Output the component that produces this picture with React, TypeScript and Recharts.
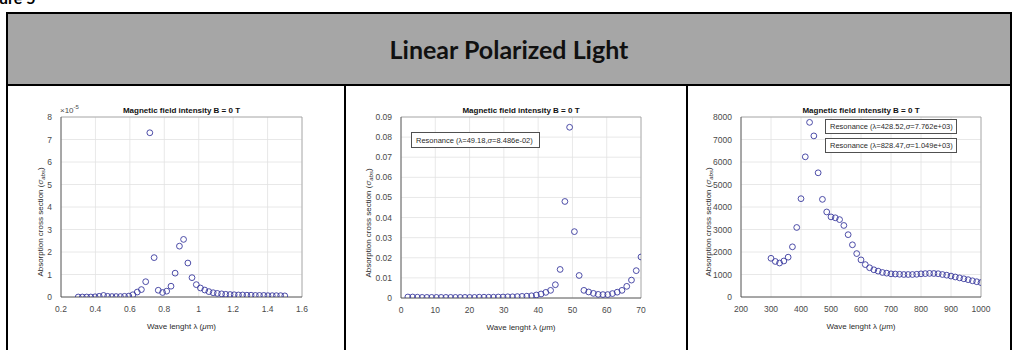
import React from 'react'
import { ScatterChart, Scatter, XAxis, YAxis, CartesianGrid, ReferenceLine } from 'recharts'

// Panel 1 - wavelength in um, sigma in units of 1e-5
const p1Lambda = [
  0.3, 0.324, 0.349, 0.373, 0.398, 0.422, 0.447, 0.471, 0.496, 0.52,
  0.545, 0.569, 0.594, 0.618, 0.643, 0.667, 0.692, 0.716, 0.741, 0.765,
  0.79, 0.814, 0.839, 0.863, 0.888, 0.912, 0.937, 0.961, 0.986, 1.01,
  1.035, 1.059, 1.084, 1.108, 1.133, 1.157, 1.182, 1.206, 1.231, 1.255,
  1.28, 1.304, 1.329, 1.353, 1.378, 1.402, 1.427, 1.451, 1.476, 1.5
]
const p1Sigma = [
  0, 0, 0, 0, 0.01, 0.03, 0.07, 0.03, 0.02, 0.02,
  0.02, 0.03, 0.04, 0.1, 0.22, 0.33, 0.68, 7.3, 1.75, 0.3,
  0.2, 0.26, 0.48, 1.06, 2.26, 2.56, 1.51, 0.86, 0.55, 0.4,
  0.31, 0.24, 0.19, 0.16, 0.14, 0.12, 0.11, 0.1, 0.09, 0.09,
  0.08, 0.08, 0.07, 0.07, 0.07, 0.06, 0.06, 0.06, 0.06, 0.05
]
const p1XTicks = [0.2, 0.4, 0.6, 0.8, 1, 1.2, 1.4, 1.6]
const p1YTicks = [0, 1, 2, 3, 4, 5, 6, 7, 8]

// Panel 2
const p2Lambda = [
  2, 3.39, 4.78, 6.16, 7.55, 8.94, 10.33, 11.71, 13.1, 14.49,
  15.88, 17.27, 18.65, 20.04, 21.43, 22.82, 24.2, 25.59, 26.98, 28.37,
  29.76, 31.14, 32.53, 33.92, 35.31, 36.69, 38.08, 39.47, 40.86, 42.24,
  43.63, 45.02, 46.41, 47.8, 49.18, 50.57, 51.96, 53.35, 54.73, 56.12,
  57.51, 58.9, 60.29, 61.67, 63.06, 64.45, 65.84, 67.22, 68.61, 70
]
const p2Sigma = [
  0.0005, 0.0005, 0.0004, 0.0003, 0.0003, 0.0003, 0.0003, 0.0003, 0.0003, 0.0003,
  0.0003, 0.0003, 0.0003, 0.0003, 0.0003, 0.0004, 0.0004, 0.0004, 0.0004, 0.0005,
  0.0005, 0.0006, 0.0006, 0.0007, 0.0008, 0.0009, 0.0011, 0.0015, 0.002, 0.0028,
  0.0038, 0.0066, 0.0142, 0.048, 0.0849, 0.033, 0.0112, 0.0038, 0.003, 0.0023,
  0.0018, 0.0017, 0.0017, 0.0022, 0.0029, 0.0038, 0.0058, 0.0089, 0.0136, 0.0204
]
const p2XTicks = [0, 10, 20, 30, 40, 50, 60, 70]
const p2YTicks = [0, 0.01, 0.02, 0.03, 0.04, 0.05, 0.06, 0.07, 0.08, 0.09]

// Panel 3
const p3Lambda = [
  300, 314.29, 328.57, 342.86, 357.14, 371.43, 385.71, 400, 414.29, 428.57,
  442.86, 457.14, 471.43, 485.71, 500, 514.29, 528.57, 542.86, 557.14, 571.43,
  585.71, 600, 614.29, 628.57, 642.86, 657.14, 671.43, 685.71, 700, 714.29,
  728.57, 742.86, 757.14, 771.43, 785.71, 800, 814.29, 828.57, 842.86, 857.14,
  871.43, 885.71, 900, 914.29, 928.57, 942.86, 957.14, 971.43, 985.71, 1000
]
const p3Sigma = [
  1720, 1580, 1510, 1600, 1770, 2230, 3090, 4370, 6230, 7762,
  7160, 5520, 4340, 3780, 3560, 3520, 3440, 3180, 2770, 2320,
  1930, 1650, 1440, 1300, 1210, 1150, 1090, 1060, 1030, 1020,
  1010, 1000, 1000, 1000, 1010, 1030, 1040, 1049, 1045, 1035,
  1000, 970, 930, 890, 850, 810, 770, 720, 680, 640
]
const p3XTicks = [200, 300, 400, 500, 600, 700, 800, 900, 1000]
const p3YTicks = [0, 1000, 2000, 3000, 4000, 5000, 6000, 7000, 8000]

const p2Legend = [{ lambda: '49.18', sigma: '8.486e-02' }]
const p3Legend = [
  { lambda: '428.52', sigma: '7.762e+03' },
  { lambda: '828.47', sigma: '1.049e+03' }
]

const FONT = '"Liberation Sans", Arial, sans-serif'
const MARKER = '#3a3a9e'
const TXT = '#2b2b2b'

const zip = (xs: number[], ys: number[]) => xs.map((x, i) => ({ x, y: ys[i] }))

function Ring(props: any) {
  const { cx, cy } = props
  if (cx == null || cy == null) return null
  return <circle cx={cx} cy={cy} r={2.9} fill="none" stroke={MARKER} strokeWidth={0.9} />
}

interface PanelProps {
  left: number
  top: number
  w: number
  h: number
  data: { x: number; y: number }[]
  xDomain: [number, number]
  xTicks: number[]
  yDomain: [number, number]
  yTicks: number[]
  yFmt?: (v: number) => string
  yLabelX: number
}

function Panel({ left, top, w, h, data, xDomain, xTicks, yDomain, yTicks, yFmt, yLabelX }: PanelProps) {
  const tickStyle = { fontSize: 8.5, fill: '#4a4a4a', fontFamily: FONT }
  const cx = left + w / 2
  return (
    <>
      <div style={{ position: 'absolute', left: left - 50, top: top - 10 }}>
        <ScatterChart width={w + 60} height={h + 40} margin={{ top: 10, right: 10, bottom: 20, left: 10 }}>
          <CartesianGrid stroke="#e2e2e2" strokeWidth={0.8} />
          <XAxis
            type="number"
            dataKey="x"
            domain={xDomain}
            ticks={xTicks}
            interval={0}
            height={20}
            tickLine={false}
            tickMargin={3}
            axisLine={{ stroke: '#4a4a4a', strokeWidth: 0.9 }}
            tick={tickStyle}
            allowDataOverflow
          />
          <YAxis
            type="number"
            dataKey="y"
            domain={yDomain}
            ticks={yTicks}
            interval={0}
            width={40}
            tickLine={false}
            tickMargin={3}
            axisLine={{ stroke: '#4a4a4a', strokeWidth: 0.9 }}
            tick={tickStyle}
            tickFormatter={yFmt}
            allowDataOverflow
          />
          <ReferenceLine y={yDomain[1]} stroke="#a0a0a0" strokeWidth={0.8} />
          <ReferenceLine x={xDomain[1]} stroke="#a0a0a0" strokeWidth={0.8} />
          <Scatter data={data} shape={<Ring />} isAnimationActive={false} />
        </ScatterChart>
      </div>
      {/* title */}
      <div
        style={{
          position: 'absolute', left: cx, top: top - 11, transform: 'translateX(-50%)',
          fontFamily: FONT, fontWeight: 'bold', fontSize: 8, lineHeight: '9px', color: '#111', whiteSpace: 'nowrap'
        }}
      >
        Magnetic field intensity B = 0 T
      </div>
      {/* y label */}
      <div
        style={{
          position: 'absolute', left: yLabelX, top: top + h / 2 + 10,
          transform: 'translate(-50%, -50%) rotate(-90deg)',
          fontFamily: FONT, fontSize: 8, lineHeight: '10px', color: TXT, whiteSpace: 'nowrap'
        }}
      >
        Absorption cross section (<i>σ</i>
        <sub style={{ fontSize: 6, fontStyle: 'italic' }}>abs</sub>)
      </div>
      {/* x label */}
      <div
        style={{
          position: 'absolute', left: cx, top: top + h + 15, transform: 'translateX(-50%)',
          fontFamily: FONT, fontSize: 8, lineHeight: '10px', color: TXT, whiteSpace: 'nowrap'
        }}
      >
        Wave lenght λ (<i>μ</i>m)
      </div>
    </>
  )
}

function LegendBox({ left, top, width, height, lambda, sigma }: any) {
  return (
    <div
      style={{
        position: 'absolute', left, top, width, height, boxSizing: 'border-box',
        border: '1px solid #505050', background: '#fff', fontFamily: FONT, fontSize: 7.5,
        color: TXT, display: 'flex', alignItems: 'center', paddingLeft: 4, whiteSpace: 'nowrap'
      }}
    >
      Resonance (λ={lambda},<i>σ</i>={sigma})
    </div>
  )
}

export default function App() {
  const fmt2 = (v: number) => (v === 0 ? '0' : v.toFixed(2))
  return (
    <div style={{ position: 'relative', width: 1016, height: 350, background: '#fff', overflow: 'hidden' }}>
      <style>{'body{margin:0}'}</style>

      {/* clipped caption of the page above */}
      <div
        style={{
          position: 'absolute', left: -1, top: -12, fontFamily: 'Lato, sans-serif', fontWeight: 'bold',
          fontSize: 16, color: '#000', whiteSpace: 'nowrap'
        }}
      >
        ure 5
      </div>

      {/* header row */}
      <div
        style={{
          position: 'absolute', left: 6, top: 12, width: 1006, height: 74, boxSizing: 'border-box',
          border: '2px solid #000', background: '#a6a6a6', display: 'flex', alignItems: 'center',
          justifyContent: 'center', fontFamily: 'Lato, "Open Sans", sans-serif', fontWeight: 'bold',
          fontSize: 25, color: '#111'
        }}
      >
        Linear Polarized Light
      </div>
      {/* cell borders */}
      {[6, 344, 686, 1010].map(x => (
        <div key={x} style={{ position: 'absolute', left: x, top: 84, width: 2, height: 266, background: '#000' }} />
      ))}

      <Panel
        left={61} top={117} w={241} h={190}
        data={zip(p1Lambda, p1Sigma)}
        xDomain={[0.2, 1.6]} xTicks={p1XTicks}
        yDomain={[0, 8]} yTicks={p1YTicks}
        yLabelX={42}
      />
      <div
        style={{
          position: 'absolute', left: 60, top: 104, fontFamily: FONT, fontSize: 8, color: '#4a4a4a',
          whiteSpace: 'nowrap'
        }}
      >
        ×10<sup style={{ fontSize: 6 }}>-5</sup>
      </div>

      <Panel
        left={401} top={117} w={240} h={191}
        data={zip(p2Lambda, p2Sigma)}
        xDomain={[0, 70]} xTicks={p2XTicks}
        yDomain={[0, 0.09]} yTicks={p2YTicks}
        yFmt={fmt2}
        yLabelX={370}
      />
      {p2Legend.map((l, i) => (
        <LegendBox key={i} left={411} top={132} width={129} height={16} lambda={l.lambda} sigma={l.sigma} />
      ))}

      <Panel
        left={741} top={117} w={240} h={190}
        data={zip(p3Lambda, p3Sigma)}
        xDomain={[200, 1000]} xTicks={p3XTicks}
        yDomain={[0, 8000]} yTicks={p3YTicks}
        yLabelX={710}
      />
      {p3Legend.map((l, i) => (
        <LegendBox key={i} left={825} top={119 + i * 19} width={132} height={15} lambda={l.lambda} sigma={l.sigma} />
      ))}
    </div>
  )
}
